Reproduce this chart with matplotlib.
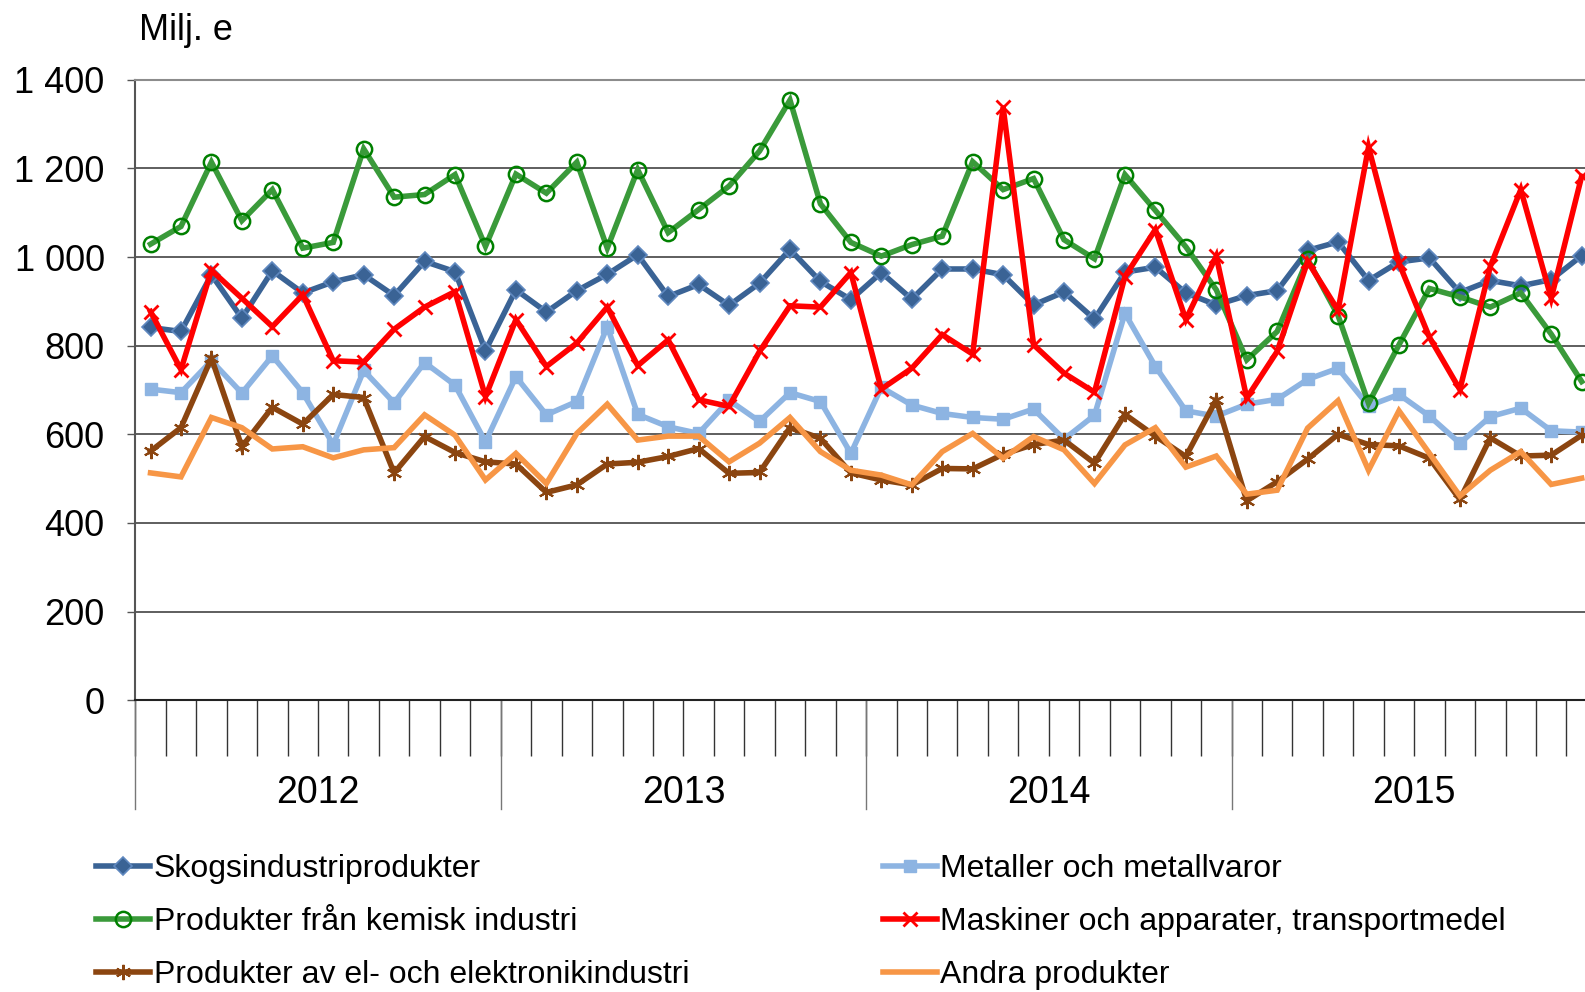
import matplotlib
matplotlib.use('Agg')
import matplotlib.pyplot as plt
import numpy as np
from matplotlib.ticker import FuncFormatter

plt.rcParams['font.family'] = ['Liberation Sans', 'DejaVu Sans']

# Monthly values 2012-2015, Milj. e
years = ['2012', '2013', '2014', '2015']

skogs = [841, 832, 960, 862, 969, 919, 944, 960, 913, 990, 967, 789,
         926, 876, 924, 961, 1005, 911, 938, 891, 941, 1017, 945, 904,
         965, 905, 973, 973, 960, 892, 921, 860, 966, 977, 919, 892,
         913, 924, 1015, 1034, 947, 989, 998, 920, 947, 935, 949, 1003]
metaller = [702, 694, 766, 693, 777, 694, 577, 744, 671, 762, 711, 583,
            730, 644, 674, 843, 645, 617, 602, 677, 629, 694, 674, 557,
            706, 666, 647, 638, 634, 657, 589, 643, 873, 753, 653, 641,
            668, 679, 724, 749, 664, 690, 641, 580, 640, 659, 608, 605]
kemisk = [1029, 1069, 1214, 1082, 1152, 1020, 1033, 1244, 1135, 1141, 1186, 1024,
          1187, 1144, 1214, 1020, 1197, 1055, 1107, 1160, 1239, 1354, 1120, 1033,
          1002, 1028, 1047, 1215, 1152, 1177, 1039, 996, 1186, 1105, 1023, 926,
          768, 832, 995, 868, 670, 802, 929, 910, 887, 919, 826, 719]
maskiner = [877, 746, 970, 907, 843, 915, 766, 763, 837, 887, 922, 685,
            859, 753, 806, 887, 755, 813, 678, 663, 787, 890, 887, 965,
            702, 749, 825, 781, 1338, 802, 738, 695, 956, 1062, 859, 1002,
            682, 787, 990, 880, 1248, 986, 819, 701, 979, 1152, 907, 1182]
el = [562, 615, 772, 572, 661, 623, 690, 683, 513, 595, 559, 538,
      533, 469, 486, 533, 537, 550, 568, 512, 514, 615, 591, 513,
      497, 486, 523, 522, 555, 577, 587, 535, 645, 596, 550, 678,
      450, 493, 544, 600, 577, 574, 546, 453, 592, 551, 553, 598]
andra = [513, 504, 638, 615, 567, 572, 547, 565, 570, 644, 598, 497,
         557, 489, 602, 668, 587, 596, 596, 538, 580, 638, 561, 519,
         508, 486, 561, 602, 546, 595, 565, 489, 576, 615, 526, 551,
         465, 474, 614, 676, 519, 653, 557, 461, 519, 561, 487, 501]

months = np.arange(len(skogs))

fig = plt.figure(figsize=(15.85, 9.92), dpi=100)
# plot area runs past the right edge, as in the original (clipped chart)
ax = fig.add_axes([135.3 / 1585, 291.7 / 992, 1461.6 / 1585, 620.6 / 992])

lw = 4.0
series = [
    ('Skogsindustriprodukter', skogs,
     dict(color='#3A6395', marker='D', ms=9, mfc='#3A6395', mec='#5F88BF', mew=1.2)),
    ('Metaller och metallvaror', metaller,
     dict(color='#8DB4E2', marker='s', ms=9, mfc='#8DB4E2', mec='#8DB4E2')),
    ('Produkter från kemisk industri', kemisk,
     dict(color='#3A9A3A', marker='o', ms=11, mfc='none', mec='#008000', mew=1.8)),
    ('Maskiner och apparater, transportmedel', maskiner,
     dict(color='#FF0000', marker='x', ms=10, mec='#FF0000', mew=2)),
    ('Produkter av el- och elektronikindustri', el,
     dict(color='#8B4510', marker=(6, 2, 0), ms=11, mec='#8B4510', mew=1.5)),
    ('Andra produkter', andra,
     dict(color='#F79646', marker=None)),
]

handles = {}
for name, vals, style in series:
    line, = ax.plot(months, vals, lw=lw, solid_joinstyle='miter', **style)
    handles[name] = line

ax.set_xlim(-0.5, 47.5)
ax.set_ylim(0, 1400)

# horizontal gridlines
yticks = np.arange(0, 1401, 200)
for y in yticks[1:-1]:
    ax.axhline(y, color='#333333', lw=1.1, zorder=0)

ax.spines['right'].set_visible(False)
ax.spines['top'].set_color('#8c8c8c')
ax.spines['top'].set_linewidth(1.5)
ax.spines['left'].set_color('#555555')
ax.spines['left'].set_linewidth(1.5)
ax.spines['bottom'].set_color('#222222')
ax.spines['bottom'].set_linewidth(1.5)

ax.set_yticks(yticks)
ax.yaxis.set_major_formatter(FuncFormatter(lambda v, p: '{:,.0f}'.format(v).replace(',', ' ')))
ax.tick_params(axis='y', length=6, width=1, color='#555555', labelsize=26, pad=16)

# month ticks and year labels
ax.set_xticks([])
ax.set_xticks(np.arange(-0.5, 48, 1), minor=True)
ax.tick_params(axis='x', which='minor', length=40, width=1, color='#333333', direction='out')
trans = ax.get_xaxis_transform()
for k in range(len(years) + 1):
    ax.plot([-0.5 + 12 * k] * 2, [0, -0.1756], transform=trans, color='#777777',
            lw=1, clip_on=False)
for k, yr in enumerate(years):
    ax.text(5.5 + 12 * k, -0.149, yr, transform=trans, ha='center', va='center', fontsize=27)

fig.text(139 / 1585, 1 - 30 / 992, 'Milj. e', fontsize=26, ha='left', va='center')

leg_kw = dict(frameon=False, fontsize=23, handlelength=1.7, handletextpad=0.1,
              labelspacing=0.72, borderpad=0, borderaxespad=0, loc='center left')
col1 = ['Skogsindustriprodukter', 'Produkter från kemisk industri',
        'Produkter av el- och elektronikindustri']
col2 = ['Metaller och metallvaror', 'Maskiner och apparater, transportmedel',
        'Andra produkter']
fig.legend([handles[n] for n in col1], col1,
           bbox_to_anchor=(96 / 1585, 1 - 922 / 992), **leg_kw)
fig.legend([handles[n] for n in col2], col2,
           bbox_to_anchor=(883 / 1585, 1 - 922 / 992), **leg_kw)

fig.savefig('out.png', dpi=100)
